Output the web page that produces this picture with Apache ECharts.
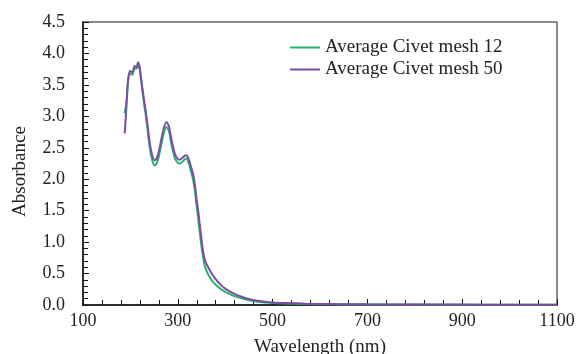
<!DOCTYPE html>
<html>
<head>
<meta charset="utf-8">
<script src="https://cdn.jsdelivr.net/npm/echarts@6/dist/echarts.min.js"></script>
<style>
  html, body { margin: 0; padding: 0; background: #fff; }
  #chart { width: 578px; height: 354px; }
</style>
</head>
<body>
<div id="chart"></div>
<script>
// wavelength (nm) shared by both spectra
const wavelengths = [188, 192, 195, 199, 204, 209, 213, 216, 219, 223, 228, 234, 241, 246, 251, 257, 263, 270, 276, 281, 287, 294, 300, 304, 310, 314, 318, 322, 327, 332, 336, 339, 343, 346, 350, 353, 357, 362, 367, 375, 388, 400, 424, 458, 494, 529, 570, 620, 700, 800, 900, 1000, 1100];

const mesh12 = [3.05, 3.25, 3.55, 3.68, 3.66, 3.76, 3.76, 3.82, 3.78, 3.55, 3.25, 2.93, 2.50, 2.30, 2.22, 2.28, 2.47, 2.72, 2.83, 2.77, 2.54, 2.33, 2.26, 2.25, 2.28, 2.31, 2.33, 2.28, 2.15, 2.00, 1.82, 1.62, 1.38, 1.18, 0.93, 0.78, 0.62, 0.52, 0.45, 0.36, 0.27, 0.21, 0.13, 0.065, 0.035, 0.025, 0.015, 0.01, 0.008, 0.006, 0.005, 0.004, 0.003];

const mesh50 = [2.73, 3.2, 3.58, 3.72, 3.70, 3.80, 3.78, 3.86, 3.80, 3.58, 3.30, 2.99, 2.57, 2.38, 2.30, 2.36, 2.55, 2.80, 2.91, 2.85, 2.62, 2.40, 2.32, 2.31, 2.34, 2.37, 2.38, 2.34, 2.22, 2.09, 1.92, 1.72, 1.50, 1.30, 1.05, 0.87, 0.72, 0.63, 0.56, 0.46, 0.34, 0.26, 0.16, 0.08, 0.045, 0.03, 0.02, 0.015, 0.01, 0.008, 0.006, 0.005, 0.004];

const seriesNames = ["Average Civet mesh 12", "Average Civet mesh 50"];
const colors = ["#25b06e", "#7b4ea3"];

// x axis ticks start at 100 nm; shift so ticks count from 0
const X0 = 100;
const toPoints = (vals) => wavelengths.map((w, i) => [w - X0, vals[i]]);

const font = "'Liberation Serif', 'DejaVu Serif', serif";
const chart = echarts.init(document.getElementById("chart"));

chart.setOption({
  animation: false,
  backgroundColor: "#fff",
  grid: {
    left: 83, right: 21, top: 22, bottom: 49,
    outerBoundsMode: "none",
    show: true, borderColor: "#666", borderWidth: 1.5
  },
  legend: {
    orient: "vertical",
    left: 285, top: 33,
    itemWidth: 30, itemHeight: 2, itemGap: 3,
    icon: "rect",
    textStyle: { fontFamily: font, fontSize: 19, color: "#222" },
    data: seriesNames
  },
  xAxis: {
    type: "value",
    min: 0, max: 1000, interval: 200,
    name: "Wavelength (nm)",
    nameLocation: "middle", nameGap: 33,
    nameTextStyle: { fontFamily: font, fontSize: 19, color: "#222" },
    axisLine: { lineStyle: { color: "#111", width: 1.5 } },
    axisTick: { inside: true, length: 6, lineStyle: { color: "#111" } },
    minorTick: { show: true, splitNumber: 5, length: 5, lineStyle: { color: "#111" } },
    splitLine: { show: false },
    axisLabel: {
      fontFamily: font, fontSize: 18, color: "#222", margin: 7,
      formatter: (v) => String(v + X0)
    }
  },
  yAxis: {
    type: "value",
    min: 0, max: 4.5, interval: 0.5,
    name: "Absorbance",
    nameLocation: "middle", nameGap: 53,
    nameTextStyle: { fontFamily: font, fontSize: 19, color: "#222", padding: [0, 16, 0, 0] },
    axisLine: { lineStyle: { color: "#111", width: 1.5 } },
    axisTick: { inside: true, length: 6, lineStyle: { color: "#111" } },
    minorTick: { show: true, splitNumber: 5, length: 5, lineStyle: { color: "#111" } },
    splitLine: { show: false },
    axisLabel: {
      fontFamily: font, fontSize: 18, color: "#222", margin: 18,
      formatter: (v) => v.toFixed(1)
    }
  },
  series: [mesh12, mesh50].map((vals, i) => ({
    name: seriesNames[i],
    type: "line",
    data: toPoints(vals),
    smooth: 0.3,
    showSymbol: false,
    color: colors[i],
    lineStyle: { width: 2, color: colors[i] },
    z: i + 2
  }))
});
</script>
</body>
</html>
